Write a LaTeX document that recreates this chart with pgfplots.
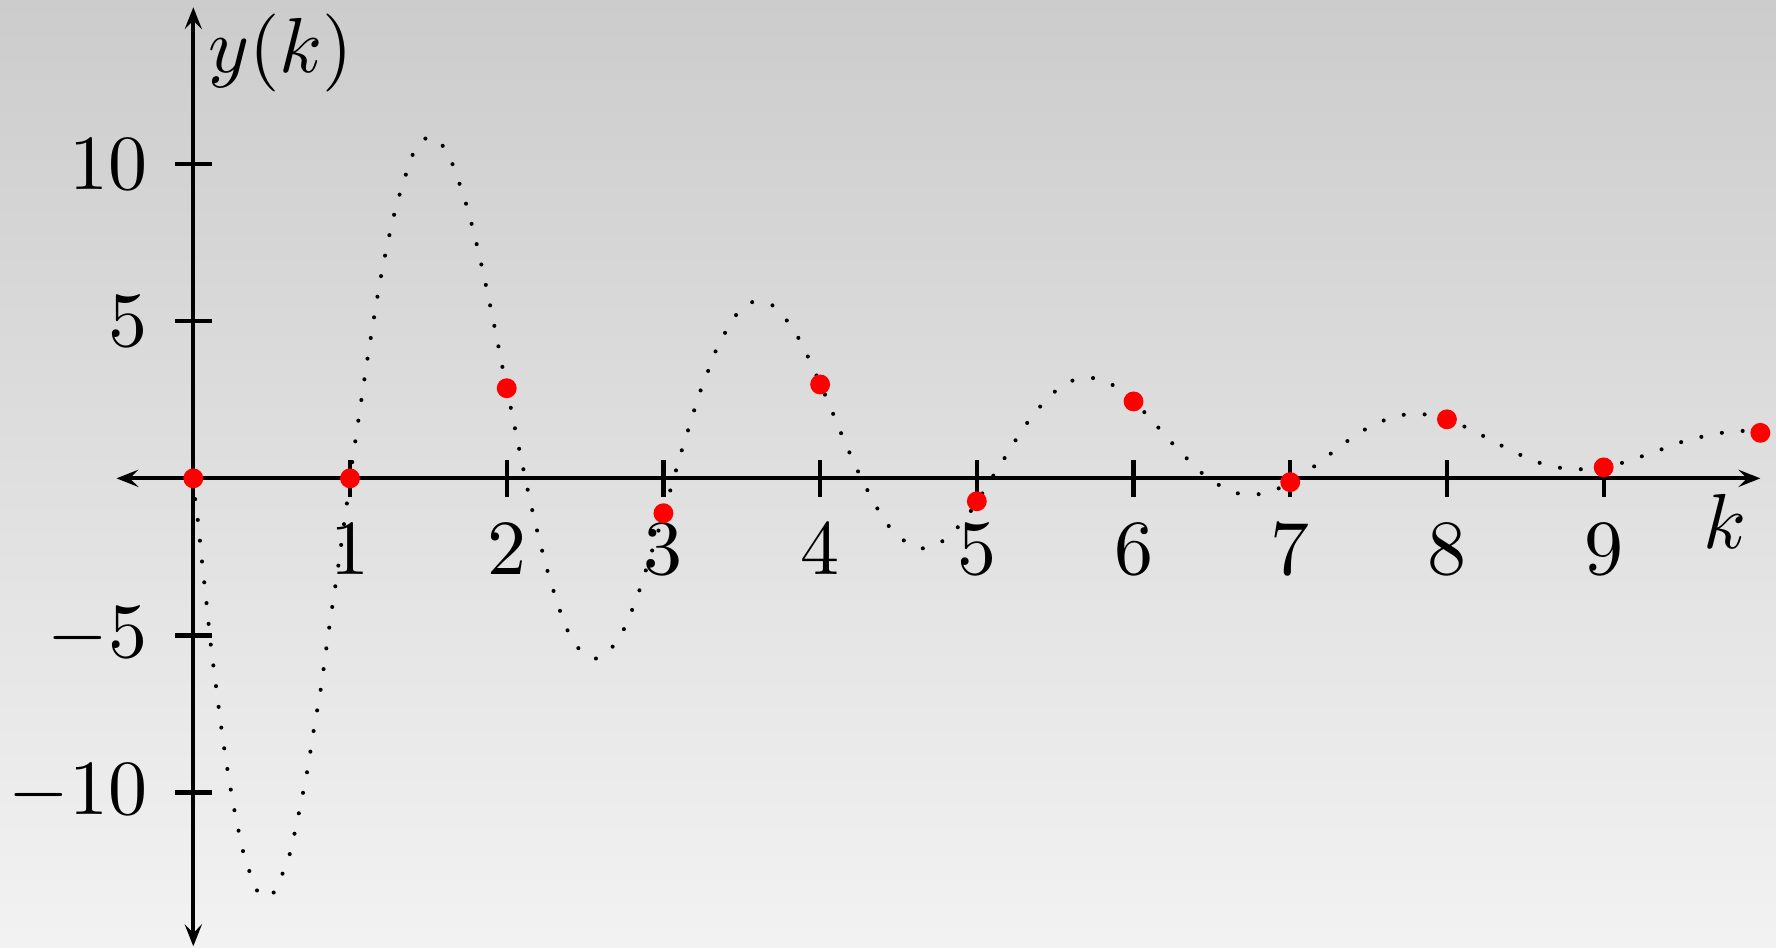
\documentclass[border=0pt]{standalone}
\usepackage{pgfplots}
\pgfplotsset{compat=1.18}
\usetikzlibrary{arrows.meta,backgrounds}

\begin{document}
\begin{tikzpicture}
\begin{axis}[
  x=20.09pt, y=4.026pt,
  xmin=-0.49, xmax=10, ymin=-14.9, ymax=15,
  enlargelimits=false,
  axis lines=middle,
  axis line style={line width=0.5pt,
    {Stealth[length=2.8pt,width=2.2pt,inset=1.1pt]}-{Stealth[length=2.8pt,width=2.2pt,inset=1.1pt]}},
  xtick={1,...,9},
  ytick={-10,-5,5,10},
  tick align=center,
  major tick length=4.7pt,
  tick style={line width=0.55pt, black},
  clip=false,
]
% continuous response, dotted
\addplot[black, line width=0.52pt, line cap=round,
         dash pattern=on 0pt off 2.68pt, smooth, tension=0.5] coordinates {
  (0,0) (0.013,-0.72) (0.030,-1.39) (0.057,-2.72) (0.086,-4.05) (0.113,-5.37)
  (0.147,-6.70) (0.181,-8.03) (0.220,-9.34) (0.266,-10.66) (0.322,-11.97)
  (0.364,-12.59) (0.415,-13.20) (0.468,-13.33) (0.521,-13.14) (0.574,-12.53)
  (0.619,-11.90) (0.676,-10.60) (0.728,-9.29) (0.770,-7.97) (0.815,-6.66)
  (0.851,-5.33) (0.889,-4.01) (0.928,-2.69) (0.964,-1.37) (0.983,-0.70)
  (1.0,0) (1.017,0.61) (1.115,3.92) (1.202,6.55) (1.287,8.51) (1.364,9.79)
  (1.411,10.41) (1.504,10.88) (1.602,10.53) (1.659,9.94) (1.745,8.67)
  (1.812,7.38) (1.870,6.08) (1.925,4.76) (1.976,3.46) (2.0,2.87) (2.030,2.15)
  (2.083,0.85) (2.138,-0.46) (2.198,-1.75) (2.266,-3.05) (2.347,-4.32)
  (2.398,-4.94) (2.470,-5.48) (2.574,-5.74) (2.676,-5.36) (2.747,-4.81)
  (2.800,-4.19) (2.846,-3.58) (2.887,-2.94) (2.927,-2.31) (2.968,-1.67)
  (3.0,-1.11) (3.044,-0.38) (3.080,0.25) (3.117,0.89) (3.157,1.53)
  (3.197,2.18) (3.238,2.81) (3.287,3.44) (3.334,4.06) (3.395,4.65)
  (3.465,5.21) (3.565,5.61) (3.689,5.53) (3.782,5.06) (3.857,4.51)
  (3.918,3.92) (3.974,3.31) (4.0,2.99) (4.029,2.69) (4.080,2.09) (4.131,1.47)
  (4.184,0.86) (4.240,0.24) (4.299,-0.35) (4.363,-0.94) (4.435,-1.50)
  (4.529,-1.96) (4.648,-2.23) (4.774,-2.02) (4.874,-1.58) (4.959,-1.06)
  (5.0,-0.73) (5.035,-0.48) (5.103,0.07) (5.174,0.62) (5.244,1.19)
  (5.318,1.74) (5.401,2.27) (5.495,2.75) (5.603,3.10) (5.733,3.20)
  (5.861,2.99) (6.0,2.45) (6.063,2.14) (6.154,1.64) (6.241,1.15) (6.335,0.66)
  (6.429,0.20) (6.537,-0.19) (6.659,-0.47) (6.790,-0.51) (6.920,-0.33)
  (7.0,-0.12) (7.147,0.36) (7.254,0.77) (7.360,1.17) (7.471,1.54) (7.590,1.83)
  (7.718,2.02) (7.852,2.04) (8.0,1.88) (8.107,1.66) (8.228,1.36) (8.345,1.05)
  (8.467,0.75) (8.588,0.50) (8.717,0.34) (8.849,0.29) (9.0,0.35) (9.115,0.49)
  (9.243,0.70) (9.368,0.92) (9.492,1.15) (9.622,1.32) (9.754,1.45)
  (9.888,1.51) (10.0,1.45)
};
% sampled values y(k)
\addplot[only marks, mark=*, mark size=1.07pt, red, mark options={draw=red, fill=red}] coordinates {
  (0,0) (1,0) (2,2.87) (3,-1.11) (4,2.99) (5,-0.73)
  (6,2.45) (7,-0.12) (8,1.88) (9,0.35) (10,1.45)
};
\node[anchor=north west, inner sep=0pt, xshift=1.7pt, yshift=-0.6pt] at (axis cs:0,15) {$y(k)$};
\node[anchor=north east, inner sep=0pt, xshift=-1.6pt, yshift=-1.9pt] at (axis cs:10,0) {$k$};
\coordinate (bgSW) at (axis cs:-1.2336,-14.927);
\coordinate (bgNE) at (axis cs:10.100,15.232);
\end{axis}
\begin{scope}[on background layer]
  \shade[top color=black!20, bottom color=black!5] (bgSW) rectangle (bgNE);
\end{scope}
\pgfresetboundingbox
\path[use as bounding box] (bgSW) rectangle (bgNE);
\end{tikzpicture}
\end{document}
